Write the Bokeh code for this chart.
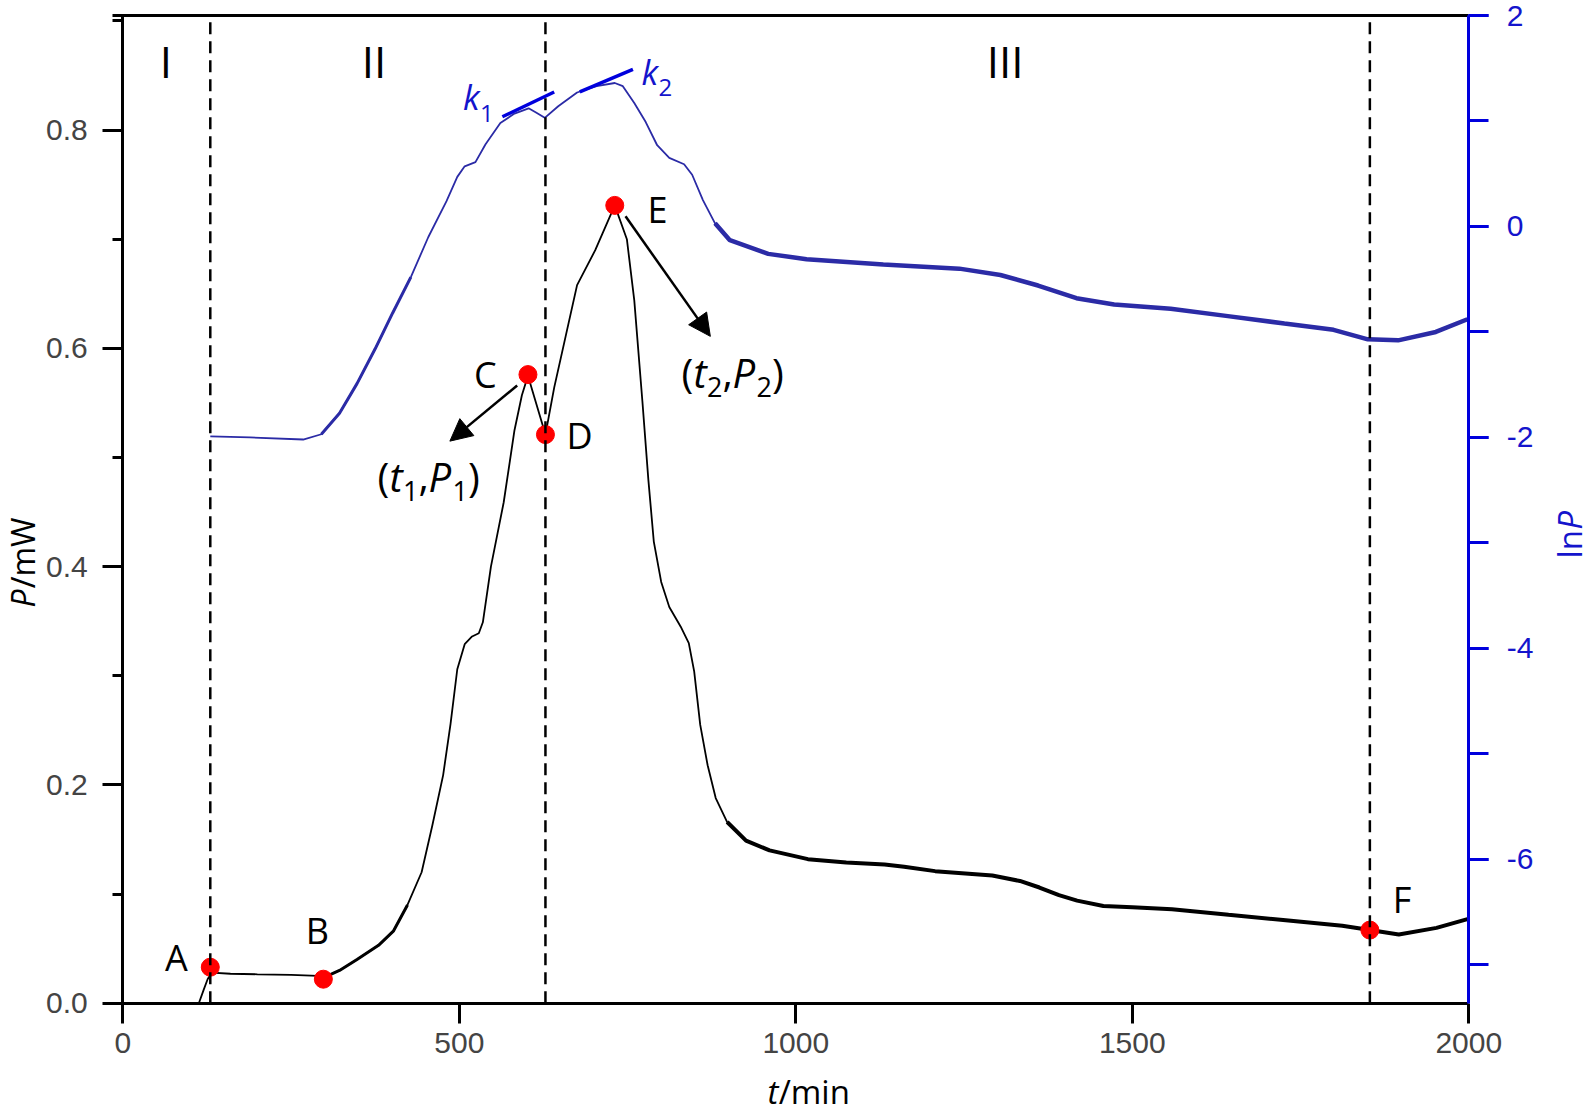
import numpy as np
from bokeh.plotting import figure
from bokeh.models import (LinearAxis, Range1d, SingleIntervalTicker, FixedTicker,
                          NumeralTickFormatter, Label, Arrow, NormalHead)
from bokeh.embed import file_html
from bokeh.resources import INLINE

# ---------------- data ----------------
t_P = [113, 120, 126, 132, 160, 200, 250, 290, 300, 322,
       348, 380, 402, 423, 444, 460, 476, 487, 497, 508,
       519, 529, 535, 547, 566, 582, 593, 602, 628, 641,
       658, 675, 702, 731, 749, 760, 772, 781, 789, 800,
       812, 829, 841, 849, 858, 869, 881, 898, 926, 961,
       1018, 1075, 1132, 1161, 1207, 1292, 1333, 1362, 1391, 1418,
       1457, 1500, 1559, 1643, 1728, 1812, 1853, 1896, 1952, 1998]
P_mW = [0.000, 0.012, 0.022, 0.028, 0.027, 0.0265, 0.026, 0.025, 0.024, 0.030,
        0.040, 0.053, 0.066, 0.090, 0.120, 0.163, 0.209, 0.256, 0.306, 0.329,
        0.336, 0.339, 0.349, 0.400, 0.459, 0.525, 0.557, 0.575, 0.521, 0.564,
        0.611, 0.658, 0.690, 0.731, 0.700, 0.644, 0.552, 0.479, 0.423, 0.386,
        0.363, 0.345, 0.330, 0.304, 0.255, 0.218, 0.188, 0.166, 0.149, 0.140,
        0.132, 0.129, 0.127, 0.125, 0.121, 0.117, 0.112, 0.106, 0.099, 0.094,
        0.089, 0.088, 0.086, 0.081, 0.076, 0.071, 0.067, 0.063, 0.069, 0.077]

t_ln = [130, 189, 268, 295, 322, 348, 375, 401, 428, 454,
        481, 497, 508, 524, 539, 561, 582, 603, 614, 627,
        647, 675, 704, 731, 743, 760, 777, 794, 812, 834,
        846, 862, 880, 902, 959, 1016, 1130, 1243, 1304, 1360,
        1417, 1473, 1557, 1642, 1726, 1799, 1850, 1895, 1951, 1998]
lnP = [-1.99, -2.00, -2.02, -1.97, -1.77, -1.49, -1.16, -0.82, -0.48, -0.10,
       0.24, 0.47, 0.57, 0.61, 0.78, 0.98, 1.07, 1.12, 1.08, 1.03,
       1.14, 1.27, 1.33, 1.36, 1.33, 1.17, 0.99, 0.77, 0.65, 0.59,
       0.49, 0.25, 0.03, -0.13, -0.26, -0.31, -0.36, -0.40, -0.46, -0.56,
       -0.68, -0.74, -0.78, -0.85, -0.92, -0.98, -1.07, -1.08, -1.00, -0.88]

pt_names = ["A", "B", "C", "D", "E", "F"]
pt_t = [130, 298, 602, 628, 731, 1853]
pt_P = [0.033, 0.022, 0.576, 0.521, 0.731, 0.067]

stage_names = ["I", "II", "III"]
stage_bounds = [130, 628, 1853]

k1_t = [564, 641]
k1_lnP = [1.04, 1.275]
k2_t = [679, 758]
k2_lnP = [1.275, 1.49]

arrow_t0 = [586, 747]
arrow_P0 = [0.566, 0.721]
arrow_t1 = [486, 873]
arrow_P1 = [0.515, 0.611]

x_ticks = [0, 500, 1000, 1500, 2000]
T0, T1 = 0, 2000
P0, P1 = 0.0, 0.905
L0, L1 = -7.364, 2.0

# ---------------- geometry (canvas pixels) ----------------
CW, CH = 1595, 1117
FL, FR = 122.3, 1468.3   # x pixel of t = 0 and t = 2000
FT, FB = 15.0, 1002.7    # y pixel of the top line and of P = 0
BASE_SHIFT = 0.42        # em correction so that labels sit on the wanted baseline

BLACK = "#000000"
AXBLUE = "#0000DD"
CURVEBLUE = "#2B2BA6"
TXTBLUE = "#1414CC"
RED = "#FF0000"


def fx(xp):
    return T0 + (xp - FL) * (T1 - T0) / (FR - FL)


def fy(yp):
    return P0 + (FB - yp) * (P1 - P0) / (FB - FT)


def fl(yp):
    return L0 + (FB - yp) * (L1 - L0) / (FB - FT)


p = figure(width=CW, height=CH,
           x_range=Range1d(fx(0), fx(CW)), y_range=Range1d(fy(CH), fy(0)),
           output_backend="svg", toolbar_location=None,
           min_border_left=0, min_border_right=0, min_border_top=0, min_border_bottom=0)
p.extra_y_ranges = {"ln": Range1d(fl(CH), fl(0))}
p.grid.visible = False
p.outline_line_color = None
p.background_fill_color = "white"
p.border_fill_color = "white"

TICK_FONT = "Liberation Sans"

xa = p.xaxis[0]
xa.fixed_location = P0
xa.bounds = (T0, T1)
xa.ticker = FixedTicker(ticks=x_ticks)
xa.axis_line_width = 3
xa.major_tick_line_width = 3
xa.major_tick_out = 20
xa.major_tick_in = 0
xa.major_label_text_font = TICK_FONT
xa.major_label_text_font_size = "30px"
xa.major_label_standoff = 10

ya = p.yaxis[0]
ya.fixed_location = T0
ya.bounds = (P0, P1)
ya.ticker = SingleIntervalTicker(interval=0.2, num_minor_ticks=2)
ya.formatter = NumeralTickFormatter(format="0.0")
ya.axis_line_width = 3
ya.major_tick_line_width = 3
ya.minor_tick_line_width = 3
ya.major_tick_out = 20
ya.major_tick_in = 0
ya.minor_tick_out = 10
ya.minor_tick_in = 0
ya.major_label_text_font = TICK_FONT
ya.major_label_text_font_size = "30px"
ya.major_label_standoff = 15

ra = LinearAxis(y_range_name="ln", fixed_location=T1, bounds=(L0, L1),
                ticker=SingleIntervalTicker(interval=2, num_minor_ticks=2),
                formatter=NumeralTickFormatter(format="0"))
ra.axis_line_width = 3
ra.axis_line_color = AXBLUE
ra.major_tick_line_width = 3
ra.minor_tick_line_width = 3
ra.major_tick_line_color = AXBLUE
ra.minor_tick_line_color = AXBLUE
ra.major_tick_out = 20
ra.major_tick_in = 0
ra.minor_tick_out = 20
ra.minor_tick_in = 0
ra.major_label_text_font = TICK_FONT
ra.major_label_text_font_size = "30px"
ra.major_label_text_color = TXTBLUE
ra.major_label_standoff = 18
p.add_layout(ra, "right")

ta = LinearAxis(fixed_location=P1, bounds=(-16, T1), ticker=FixedTicker(ticks=[]))
ta.axis_line_width = 3
ta.major_label_text_font_size = "0px"
ta.major_tick_out = 0
ta.major_label_standoff = 0
p.add_layout(ta, "above")

# ---------------- curves ----------------
tP = np.array(t_P, dtype=float)
vP = np.array(P_mW, dtype=float)
tL = np.array(t_ln, dtype=float)
vL = np.array(lnP, dtype=float)

p.line(tL, vL, y_range_name="ln", line_color=CURVEBLUE, line_width=1.8)
mL1 = (tL >= 295) & (tL <= 430)
p.line(tL[mL1], vL[mL1], y_range_name="ln", line_color=CURVEBLUE, line_width=3)
mL2 = tL >= 880
p.line(tL[mL2], vL[mL2], y_range_name="ln", line_color=CURVEBLUE, line_width=4.5)

p.line(tP, vP, line_color=BLACK, line_width=1.8)
mP1 = (tP >= 290) & (tP <= 430)
p.line(tP[mP1], vP[mP1], line_color=BLACK, line_width=3)
mP2 = tP >= 898
p.line(tP[mP2], vP[mP2], line_color=BLACK, line_width=4)

# tangents
p.line(k1_t, k1_lnP, y_range_name="ln", line_color=AXBLUE, line_width=3.5)
p.line(k2_t, k2_lnP, y_range_name="ln", line_color=AXBLUE, line_width=3.5)

# points
p.scatter(pt_t, pt_P, size=18, fill_color=RED, line_color=RED)

# stage boundaries
p.segment(x0=stage_bounds, y0=[P0] * len(stage_bounds), x1=stage_bounds,
          y1=[P1] * len(stage_bounds), line_color=BLACK, line_width=2.5, line_dash="12 7")

# arrows
for i in range(len(arrow_t0)):
    p.add_layout(Arrow(end=NormalHead(size=22, fill_color=BLACK, line_color=BLACK, line_width=1),
                       x_start=arrow_t0[i], y_start=arrow_P0[i],
                       x_end=arrow_t1[i], y_end=arrow_P1[i],
                       line_color=BLACK, line_width=2.5))

# ---------------- text ----------------
ADV = {'(': 0.297, ')': 0.297, ',': 0.254, 't': 0.34, 'P': 0.60, '1': 0.571, '2': 0.571,
       'k': 0.50, 'l': 0.258, 'n': 0.612, '/': 0.367, 'm': 0.929, 'W': 0.927, 'i': 0.258}


def adv(s, size):
    return sum(ADV.get(c, 0.55) for c in s) * size


def rich(xp, yp, pieces, color, angle=0.0, rng="default", font="Open Sans"):
    pos = 0.0
    for text, italic, size, drop in pieces:
        d = drop - BASE_SHIFT * size
        if angle == 0:
            x_, y_ = xp + pos, yp + d
        else:
            x_, y_ = xp + d, yp - pos
        yy = fy(y_) if rng == "default" else fl(y_)
        p.add_layout(Label(x=fx(x_), y=yy, y_range_name=rng, text=text, angle=angle,
                           text_align="left", text_baseline="alphabetic",
                           text_font=font, text_font_size=f"{size}px",
                           text_font_style="italic" if italic else "normal",
                           text_color=color))
        pos += adv(text, size)


def plain(xp, yp, text, size, color=BLACK, align="center"):
    p.add_layout(Label(x=fx(xp), y=fy(yp - BASE_SHIFT * size), text=text, text_align=align,
                       text_baseline="alphabetic", text_font="Open Sans",
                       text_font_size=f"{size}px", text_color=color))


# stage numerals
for name, xc in zip(stage_names, [165.5, 373.6, 1004.6]):
    plain(xc, 78.5, name, 44)

# point letters
for name, (xc, yb) in zip(pt_names, [(176, 972), (316.8, 945), (484.8, 389),
                                     (579, 450.6), (657, 223.8), (1401.6, 914)]):
    plain(xc, yb, name, 36)

# (t1,P1) and (t2,P2)
for sub, (xl, yb) in zip(["1", "2"], [(377, 493), (681, 389)]):
    rich(xl, yb, [("(", False, 40, 0), ("t", True, 40, 0), (sub, False, 27, 9),
                  (",", False, 40, 0), ("P", True, 40, 0), (sub, False, 27, 9),
                  (")", False, 40, 0)], BLACK)

# k1, k2
rich(462.5, 110.7, [("k", True, 34, 0), ("1", False, 24, 12)], TXTBLUE, rng="ln")
rich(641, 86, [("k", True, 34, 0), ("2", False, 24, 11)], TXTBLUE, rng="ln")

# axis titles
rich(767, 1105, [("t", True, 33, 0), ("/min", False, 33, 0)], BLACK)
rich(35, 607, [("P", True, 32, 0), ("/mW", False, 32, 0)], BLACK, angle=np.pi / 2)
rich(1583, 558, [("ln", False, 33, 0), ("P", True, 33, 0)], TXTBLUE, angle=np.pi / 2, rng="ln")

open("out.html", "w").write(file_html(p, INLINE))
